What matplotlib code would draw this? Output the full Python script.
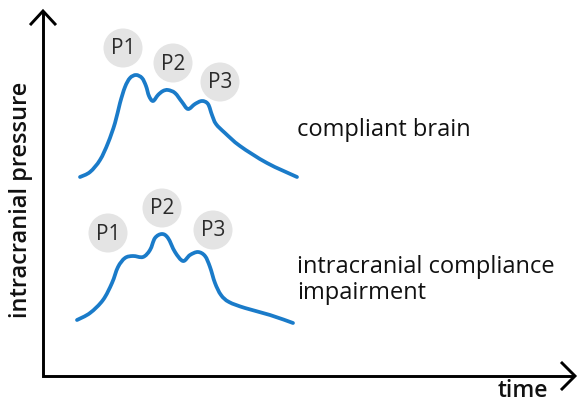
import matplotlib
matplotlib.use("Agg")
import matplotlib.pyplot as plt
from matplotlib.patches import Circle, PathPatch
from matplotlib.path import Path

# --- data (pixel-space coordinates) ---
top_x = [80, 90, 100, 108, 115, 120, 125, 130, 136, 142, 146, 149, 153, 158, 163, 168,
         175, 182, 188, 195, 202, 208, 212, 216, 225, 240, 267, 297]
top_y = [177, 172, 160, 143, 123, 103, 87, 78, 75, 78, 86, 96, 101, 95, 91, 90,
         93, 102, 109, 104, 101, 104, 115, 124, 133, 146, 163, 177]

bot_x = [77, 90, 103, 112, 118, 125, 133, 143, 150, 155, 162, 168, 175, 183, 190, 198,
         205, 210, 215, 221, 229, 245, 270, 293]
bot_y = [320, 313, 300, 283, 267, 258, 256, 257, 250, 238, 234, 238, 252, 261, 255, 252,
         256, 267, 283, 295, 302, 308, 315, 323]

peak_labels = ["P1", "P2", "P3"]
top_bubble_x = [123, 173, 220]
top_bubble_y = [48, 63, 82]
bot_bubble_x = [108, 162, 213]
bot_bubble_y = [233, 208, 230]

label_top = "compliant brain"
label_bot = "intracranial compliance\nimpairment"
xlabel = "time"
ylabel = "intracranial pressure"

W, H = 577, 403
plt.rcParams['font.family'] = ['Open Sans', 'DejaVu Sans']


def smooth_path(xs, ys):
    """Catmull-Rom curve through the points, drawn as cubic Bezier segments."""
    pts = list(zip(xs, ys))
    verts = [pts[0]]
    codes = [Path.MOVETO]
    n = len(pts)
    for i in range(n - 1):
        p0 = pts[i - 1] if i > 0 else pts[i]
        p1 = pts[i]
        p2 = pts[i + 1]
        p3 = pts[i + 2] if i + 2 < n else pts[i + 1]
        c1 = (p1[0] + (p2[0] - p0[0]) / 6, p1[1] + (p2[1] - p0[1]) / 6)
        c2 = (p2[0] - (p3[0] - p1[0]) / 6, p2[1] - (p3[1] - p1[1]) / 6)
        verts += [c1, c2, p2]
        codes += [Path.CURVE4] * 3
    return Path(verts, codes)


fig = plt.figure(figsize=(W / 100, H / 100), dpi=100)
ax = fig.add_axes([0, 0, 1, 1])
ax.set_xlim(0, W)
ax.set_ylim(H, 0)
ax.axis('off')

blue = '#1a7bc9'
for xs, ys in [(top_x, top_y), (bot_x, bot_y)]:
    ax.add_patch(PathPatch(smooth_path(xs, ys), facecolor='none', edgecolor=blue,
                           lw=2.7, capstyle='round', joinstyle='round', zorder=3))

for bx, by, lab in list(zip(top_bubble_x, top_bubble_y, peak_labels)) + \
        list(zip(bot_bubble_x, bot_bubble_y, peak_labels)):
    ax.add_patch(Circle((bx, by), 19.5, facecolor='#e4e4e4', edgecolor='none', zorder=1))
    ax.text(bx, by + 1, lab, ha='center', va='center', fontsize=15, color='#2b2b2b', zorder=2)

# axes with open arrowheads
ax.plot([43, 43, 574], [12, 376, 376], color='black', lw=2.1, solid_joinstyle='miter', solid_capstyle='butt')
ax.plot([31, 43, 55], [24, 11, 24], color='black', lw=2.1, solid_joinstyle='miter')
ax.plot([562, 575, 562], [363, 376, 389], color='black', lw=2.1, solid_joinstyle='miter')

ax.text(297, 130, label_top, ha='left', va='center', fontsize=17, color='#111111')
ax.text(297, 280, label_bot, ha='left', va='center', fontsize=17, color='#111111', linespacing=1.12)
ax.text(523, 391, xlabel, ha='center', va='center', fontsize=16.5, color='#111111', fontweight='semibold')
ax.text(21, 200, ylabel, ha='center', va='center', rotation=90, fontsize=17, color='#111111', fontweight='semibold')

fig.savefig('out.png', dpi=100)
